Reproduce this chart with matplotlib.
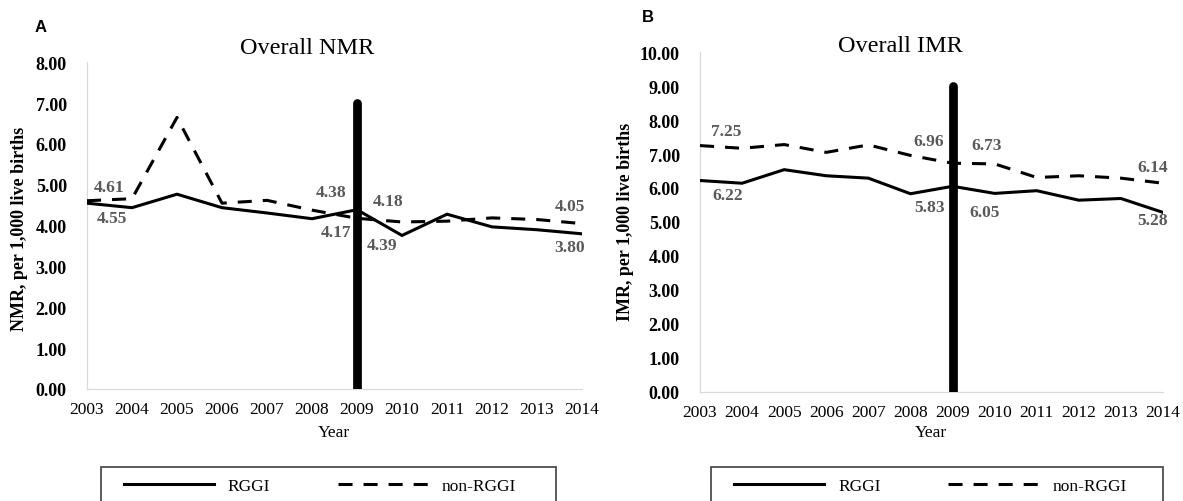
import matplotlib
matplotlib.use('Agg')
import matplotlib.pyplot as plt
from matplotlib.patches import Rectangle
from matplotlib.ticker import FormatStrFormatter, MultipleLocator

# Datos
years = list(range(2003, 2015))
policy_year = 2009

nmr_rggi = [4.55, 4.44, 4.77, 4.44, 4.31, 4.17, 4.39, 3.76, 4.28, 3.97, 3.90, 3.80]
nmr_non = [4.61, 4.66, 6.65, 4.55, 4.62, 4.38, 4.18, 4.09, 4.11, 4.19, 4.15, 4.05]
imr_rggi = [6.22, 6.14, 6.54, 6.36, 6.29, 5.83, 6.05, 5.84, 5.92, 5.64, 5.69, 5.28]
imr_non = [7.25, 7.17, 7.28, 7.05, 7.27, 6.96, 6.73, 6.71, 6.31, 6.36, 6.29, 6.14]

nmr_bar_top = 7.0
imr_bar_top = 9.0

# Años con etiqueta de valor
labeled_years = [2003, 2008, 2009, 2014]

W, H = 1183, 502
plt.rcParams['font.family'] = ['Liberation Serif', 'DejaVu Serif']

fig = plt.figure(figsize=(W / 100, H / 100), dpi=100)


def fx(x):
  return x / W


def fy(y):
  return 1 - y / H


def draw_panel(rect, rggi, non, bar_top, ymax, title, title_xy, ylabel, ylabel_xy,
               xlabel_xy, letter, letter_xy, offsets, legend_box, legend_x):
  ax = fig.add_axes(rect)
  x0, x1 = years[0], years[-1]

  l_rggi, = ax.plot(years, rggi, color='black', lw=2.2, solid_joinstyle='miter', zorder=3)
  l_non, = ax.plot(years, non, color='black', lw=2.2, ls=(0, (4.6, 3.6)), zorder=3)
  # Barra vertical del año de la política
  ax.plot([policy_year, policy_year], [0, bar_top], color='black', lw=6.3,
          solid_capstyle='round', zorder=4)

  ax.set_xlim(x0, x1)
  ax.set_ylim(0, ymax)
  ax.set_xticks(years)
  ax.yaxis.set_major_locator(MultipleLocator(1))
  ax.yaxis.set_major_formatter(FormatStrFormatter('%.2f'))
  ax.tick_params(axis='x', length=0, pad=9, labelsize=12.5)
  ax.tick_params(axis='y', length=0, pad=14.5, labelsize=13)
  for lbl in ax.get_yticklabels():
    lbl.set_fontweight('bold')

  for side in ['top', 'right']:
    ax.spines[side].set_visible(False)
  for side in ['left', 'bottom']:
    ax.spines[side].set_color('#d9d9d9')
    ax.spines[side].set_linewidth(0.9)

  # Etiquetas de valores
  for series, vals in [('non', non), ('rggi', rggi)]:
    for yr in labeled_years:
      dx, dy = offsets[(series, yr)]
      v = vals[years.index(yr)]
      ax.annotate(f'{v:.2f}', xy=(yr, v), xytext=(dx, -dy), textcoords='offset pixels',
                  ha='center', va='center', fontsize=12.5, fontweight='bold',
                  color='#595959', zorder=5)

  fig.text(fx(title_xy[0]), fy(title_xy[1]), title, ha='center', va='center', fontsize=17.5)
  fig.text(fx(ylabel_xy[0]), fy(ylabel_xy[1]), ylabel, ha='center', va='center',
           rotation=90, fontsize=13, fontweight='bold')
  fig.text(fx(xlabel_xy[0]), fy(xlabel_xy[1]), 'Year', ha='center', va='center', fontsize=12.5)
  fig.text(fx(letter_xy[0]), fy(letter_xy[1]), letter, ha='center', va='center',
           fontsize=12, fontweight='bold', family='Liberation Sans')

  # Leyenda con marco que se corta en el borde inferior
  bx0, by0, bx1 = legend_box
  fig.add_artist(Rectangle((fx(bx0), fy(H + 10)), fx(bx1) - fx(bx0), fy(by0) - fy(H + 10),
                           transform=fig.transFigure, fill=False, edgecolor='#404040',
                           lw=1.2, clip_on=False))
  ax.legend([l_rggi, l_non], ['RGGI', 'non-RGGI'], loc='center left',
            bbox_to_anchor=(fx(legend_x), fy(487)), bbox_transform=fig.transFigure,
            ncol=2, frameon=False, borderpad=0, borderaxespad=0, handlelength=5.2,
            handletextpad=0.8, columnspacing=3.9, fontsize=12.5)
  return ax


nmr_offsets = {
  ('non', 2003): (22, -14), ('rggi', 2003): (25, 15),
  ('non', 2008): (19, -18), ('rggi', 2008): (24, 13),
  ('non', 2009): (31, -17), ('rggi', 2009): (25, 35),
  ('non', 2014): (-12, -18), ('rggi', 2014): (-12, 13),
}
imr_offsets = {
  ('non', 2003): (26, -15), ('rggi', 2003): (28, 14),
  ('non', 2008): (18, -14), ('rggi', 2008): (19, 13),
  ('non', 2009): (34, -18), ('rggi', 2009): (32, 26),
  ('non', 2014): (-10, -16), ('rggi', 2014): (-10, 8),
}

draw_panel([fx(87), fy(390), fx(582) - fx(87), fy(63.3) - fy(390)],
           nmr_rggi, nmr_non, nmr_bar_top, 8, 'Overall NMR', (307, 48),
           'NMR, per 1,000 live births', (20, 229), (334, 433), 'A', (41, 28),
           nmr_offsets, (101, 468, 556), 123.5)

draw_panel([fx(700), fy(392.5), fx(1163) - fx(700), fy(53.3) - fy(392.5)],
           imr_rggi, imr_non, imr_bar_top, 10, 'Overall IMR', (900, 47),
           'IMR, per 1,000 live births', (625, 222), (931, 433), 'B', (648, 18),
           imr_offsets, (711, 468, 1163), 734)

fig.savefig('out.png', dpi=100)
